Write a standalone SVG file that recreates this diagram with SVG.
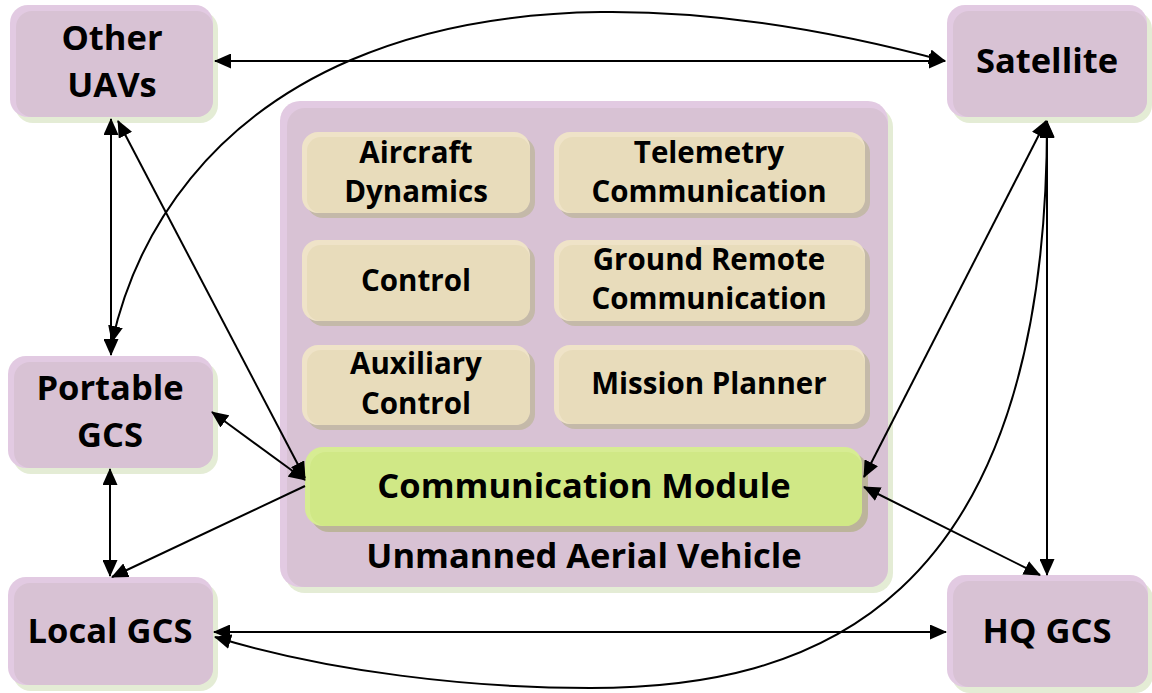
<svg xmlns="http://www.w3.org/2000/svg" width="1152" height="693" viewBox="0 0 1152 693">
  <defs>
    <marker id="arrow" viewBox="0 0 17 15" refX="16" refY="7.5" markerWidth="17" markerHeight="15" markerUnits="userSpaceOnUse" orient="auto-start-reverse">
      <path d="M0,0 L17,7.5 L0,15 z" fill="#000"/>
    </marker>
  </defs>
  <style>
    .shadow-g { fill: #e4ecd5; }
    .shadow-b { fill: #c4b9a9; }
    .shadow-c { fill: #bcb49b; }
    .edge-p { fill: #e2cae2; }
    .fill-p { fill: #d8c2d4; }
    .edge-b { fill: #efe3c8; }
    .fill-b { fill: #e8dcbb; }
    .edge-c { fill: #d7ec93; }
    .fill-c { fill: #d0e886; }
    text { font-family: "Open Sans", "Noto Sans", "DejaVu Sans", sans-serif; font-weight: 700; fill: #000; text-anchor: middle; }
    .big { font-size: 34.5px; }
    .small { font-size: 29.5px; }
    .link { fill: none; stroke: #000; stroke-width: 2; }
  </style>

  <!-- outer nodes -->
  <g id="other-uavs">
    <rect class="shadow-g" x="15" y="11" width="203" height="112" rx="18"/>
    <rect class="edge-p" x="10" y="5" width="203" height="112" rx="18"/>
    <rect class="fill-p" x="16" y="11" width="197" height="106" rx="16"/>
    <text class="big" x="112" y="50">Other</text>
    <text class="big" x="112" y="97">UAVs</text>
  </g>

  <g id="satellite">
    <rect class="shadow-g" x="952" y="11" width="200" height="112" rx="18"/>
    <rect class="edge-p" x="947" y="5" width="200" height="112" rx="18"/>
    <rect class="fill-p" x="953" y="11" width="194" height="106" rx="16"/>
    <text class="big" x="1047" y="73">Satellite</text>
  </g>

  <g id="portable-gcs">
    <rect class="shadow-g" x="13" y="362" width="205" height="112" rx="18"/>
    <rect class="edge-p" x="8" y="356" width="205" height="112" rx="18"/>
    <rect class="fill-p" x="14" y="362" width="199" height="106" rx="16"/>
    <text class="big" x="110" y="400">Portable</text>
    <text class="big" x="110" y="447">GCS</text>
  </g>

  <g id="local-gcs">
    <rect class="shadow-g" x="13" y="583" width="205" height="108" rx="18"/>
    <rect class="edge-p" x="8" y="577" width="205" height="108" rx="18"/>
    <rect class="fill-p" x="14" y="583" width="199" height="102" rx="16"/>
    <text class="big" x="110" y="643">Local GCS</text>
  </g>

  <g id="hq-gcs">
    <rect class="shadow-g" x="952" y="581" width="201" height="112" rx="18"/>
    <rect class="edge-p" x="947" y="575" width="201" height="112" rx="18"/>
    <rect class="fill-p" x="953" y="581" width="195" height="106" rx="16"/>
    <text class="big" x="1047" y="643">HQ GCS</text>
  </g>

  <!-- vehicle container with its subsystems -->
  <g id="uav">
    <rect class="shadow-g" x="285" y="107" width="608" height="486" rx="20"/>
    <rect class="edge-p" x="280" y="101" width="608" height="486" rx="20"/>
    <rect class="fill-p" x="287" y="108" width="601" height="479" rx="18"/>
    <text class="big" x="584" y="568">Unmanned Aerial Vehicle</text>
  </g>

  <g id="aircraft-dynamics">
    <rect class="shadow-b" x="307" y="137" width="228" height="81" rx="16"/>
    <rect class="edge-b" x="302" y="132" width="228" height="81" rx="16"/>
    <rect class="fill-b" x="307" y="137" width="223" height="76" rx="14"/>
    <text class="small" x="416" y="163">Aircraft</text>
    <text class="small" x="416" y="202">Dynamics</text>
  </g>

  <g id="telemetry-communication">
    <rect class="shadow-b" x="559" y="137" width="311" height="81" rx="16"/>
    <rect class="edge-b" x="554" y="132" width="311" height="81" rx="16"/>
    <rect class="fill-b" x="559" y="137" width="306" height="76" rx="14"/>
    <text class="small" x="709" y="163">Telemetry</text>
    <text class="small" x="709" y="202">Communication</text>
  </g>

  <g id="control">
    <rect class="shadow-b" x="307" y="245" width="228" height="81" rx="16"/>
    <rect class="edge-b" x="302" y="240" width="228" height="81" rx="16"/>
    <rect class="fill-b" x="307" y="245" width="223" height="76" rx="14"/>
    <text class="small" x="416" y="291">Control</text>
  </g>

  <g id="ground-remote-communication">
    <rect class="shadow-b" x="559" y="245" width="311" height="81" rx="16"/>
    <rect class="edge-b" x="554" y="240" width="311" height="81" rx="16"/>
    <rect class="fill-b" x="559" y="245" width="306" height="76" rx="14"/>
    <text class="small" x="709" y="270">Ground Remote</text>
    <text class="small" x="709" y="309">Communication</text>
  </g>

  <g id="auxiliary-control">
    <rect class="shadow-b" x="307" y="350" width="228" height="80" rx="16"/>
    <rect class="edge-b" x="302" y="345" width="228" height="80" rx="16"/>
    <rect class="fill-b" x="307" y="350" width="223" height="75" rx="14"/>
    <text class="small" x="416" y="374">Auxiliary</text>
    <text class="small" x="416" y="414">Control</text>
  </g>

  <g id="mission-planner">
    <rect class="shadow-b" x="559" y="350" width="311" height="79" rx="16"/>
    <rect class="edge-b" x="554" y="345" width="311" height="79" rx="16"/>
    <rect class="fill-b" x="559" y="350" width="306" height="74" rx="14"/>
    <text class="small" x="709" y="394">Mission Planner</text>
  </g>

  <g id="communication-module">
    <rect class="shadow-c" x="311" y="453" width="557" height="79" rx="18"/>
    <rect class="edge-c" x="305" y="447" width="557" height="79" rx="18"/>
    <rect class="fill-c" x="310" y="452" width="552" height="74" rx="16"/>
    <text class="big" x="584" y="498">Communication Module</text>
  </g>

  <!-- links -->
  <g id="connectors">
    <path class="link" d="M215,61 L945,61" marker-start="url(#arrow)" marker-end="url(#arrow)"/>
    <path class="link" d="M111,119 L111,355" marker-start="url(#arrow)" marker-end="url(#arrow)"/>
    <path class="link" d="M118,121 L305,478" marker-start="url(#arrow)" marker-end="url(#arrow)"/>
    <path class="link" d="M212,412 L305,480" marker-start="url(#arrow)" marker-end="url(#arrow)"/>
    <path class="link" d="M305,486 L112,577" marker-end="url(#arrow)"/>
    <path class="link" d="M110,469 L110,576" marker-start="url(#arrow)" marker-end="url(#arrow)"/>
    <path class="link" d="M214,632 L946,632" marker-start="url(#arrow)" marker-end="url(#arrow)"/>
    <path class="link" d="M864,477 L1046,121" marker-start="url(#arrow)" marker-end="url(#arrow)"/>
    <path class="link" d="M864,487 L1040,575" marker-start="url(#arrow)" marker-end="url(#arrow)"/>
    <path class="link" d="M1047,121 L1047,575" marker-start="url(#arrow)" marker-end="url(#arrow)"/>
    <path class="link" d="M112,342 C165,105 420,-80 945,61" marker-start="url(#arrow)" marker-end="url(#arrow)"/>
    <path class="link" d="M215,637 C330,672 470,688 590,688 C810,688 1047,610 1047,122" marker-start="url(#arrow)" marker-end="url(#arrow)"/>
  </g>
</svg>
